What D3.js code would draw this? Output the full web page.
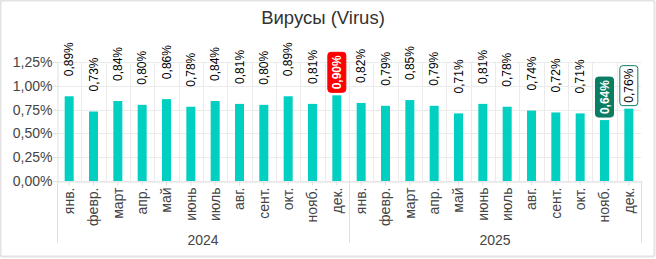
<!DOCTYPE html>
<html><head><meta charset="utf-8">
<script src="https://cdn.jsdelivr.net/npm/d3@7"></script>
<style>
html,body{margin:0;padding:0;background:#fff;}
svg{display:block;font-family:"Liberation Sans", Arial, sans-serif;}
</style></head>
<body>
<svg id="c" width="656" height="259"></svg>
<script>
const months = ["янв.","февр.","март","апр.","май","июнь","июль","авг.","сент.","окт.","нояб.","дек."];
const years = ["2024","2025"];
const values2024 = [0.89,0.73,0.84,0.80,0.86,0.78,0.84,0.81,0.80,0.89,0.81,0.90];
const values2025 = [0.82,0.79,0.85,0.79,0.71,0.81,0.78,0.74,0.72,0.71,0.64,0.76];
const yTicks = [0,0.25,0.5,0.75,1.0,1.25];
const title = "Вирусы (Virus)";

const data = [];
years.forEach((y,yi)=>{
  const vals = yi===0?values2024:values2025;
  months.forEach((m,mi)=>data.push({key:y+"-"+mi, year:y, month:m, value:vals[mi]}));
});
const maxV = d3.max(data,d=>d.value), minV = d3.min(data,d=>d.value);
const lastKey = data[data.length-1].key;

const svg = d3.select("#c");
const L=57, R=641, T=62, B=181;
const x = d3.scaleBand().domain(data.map(d=>d.key)).range([L,R]).paddingInner(0).paddingOuter(0);
const y = d3.scaleLinear().domain([0,1.25]).range([B,T]);
const fmt = v => d3.format(".2f")(v).replace(".",",")+"%";

// frame
svg.append("rect").attr("x",0.5).attr("y",0.5).attr("width",654).attr("height",256)
  .attr("fill","#fff").attr("stroke","#e3e3e3").attr("stroke-width",2).attr("rx",2);

// title
svg.append("text").attr("x",323).attr("y",24).attr("text-anchor","middle")
  .attr("font-size",18.5).attr("fill","#333").text(title);

// gridlines horizontal
svg.append("g").selectAll("line").data(yTicks).join("line")
  .attr("x1",L-4).attr("x2",R).attr("y1",d=>Math.round(y(d))+0.5).attr("y2",d=>Math.round(y(d))+0.5)
  .attr("stroke","#ebebeb");
// vertical gridlines at band boundaries
svg.append("g").selectAll("line").data(data.slice(1)).join("line")
  .attr("x1",d=>Math.round(x(d.key))+0.5).attr("x2",d=>Math.round(x(d.key))+0.5)
  .attr("y1",T).attr("y2",B).attr("stroke","#ebebeb");

// y axis
const ya = d3.axisLeft(y).tickValues(yTicks).tickSize(4).tickFormat(fmt);
const yg = svg.append("g").attr("transform",`translate(${L+0.5},0)`).call(ya);
yg.select(".domain").attr("stroke","#e0e0e0");
yg.selectAll(".tick line").attr("stroke","#e0e0e0");
yg.selectAll(".tick text").attr("font-size",14).attr("fill","#444").attr("font-family","inherit").attr("x",-5);

// bars
const bw = 9;
svg.append("g").selectAll("rect").data(data).join("rect")
  .attr("x",d=>x(d.key)+x.bandwidth()/2-bw/2).attr("width",bw)
  .attr("y",d=>y(d.value)).attr("height",d=>y(0)-y(d.value))
  .attr("fill","#00cfc1");

// x axis
const xa = d3.axisBottom(x).tickSize(4).tickFormat(k=>data.find(d=>d.key===k).month);
const xg = svg.append("g").attr("transform",`translate(0,${B+0.5})`).call(xa);
xg.select(".domain").attr("stroke","#e0e0e0");
xg.selectAll(".tick line").attr("stroke","#e0e0e0");
xg.selectAll(".tick text").attr("font-size",14).attr("fill","#444").attr("font-family","inherit")
  .attr("transform","rotate(-90)").attr("text-anchor","end").attr("x",-6).attr("y",0).attr("dy","0.35em");

// year groups
const sepX = [L, x(years[1]+"-0"), R];
svg.append("g").selectAll("line").data(sepX).join("line")
  .attr("x1",d=>Math.round(d)+0.5).attr("x2",d=>Math.round(d)+0.5).attr("y1",B).attr("y2",243)
  .attr("stroke","#e0e0e0");
svg.append("g").selectAll("text").data(years).join("text")
  .attr("x",(d,i)=>(sepX[i]+sepX[i+1])/2).attr("y",245)
  .attr("text-anchor","middle").attr("font-size",14).attr("fill","#444").text(d=>d);

// value labels
const lg = svg.append("g");
data.forEach(d=>{
  const cx = x(d.key)+x.bandwidth()/2;
  const top = y(d.value);
  let style = null;
  if (d.value===maxV) style={bg:"#ff0000",stroke:"#ff0000",fg:"#fff",bold:true};
  else if (d.value===minV) style={bg:"#0b7d63",stroke:"#0b7d63",fg:"#fff",bold:true};
  else if (d.key===lastKey) style={bg:"#fff",stroke:"#0b7d63",fg:"#000",bold:false};
  if (style){
    const h=40,w=18;
    lg.append("rect").attr("x",cx-w/2).attr("y",top-3-h).attr("width",w).attr("height",h)
      .attr("rx",3).attr("fill",style.bg).attr("stroke",style.stroke);
    lg.append("text").attr("transform",`translate(${cx},${top-3-h/2}) rotate(-90)`)
      .attr("text-anchor","middle").attr("dy","0.35em").attr("font-size",12)
      .attr("font-weight",style.bold?"bold":"normal").attr("fill",style.fg).text(fmt(d.value));
  } else {
    lg.append("text").attr("transform",`translate(${cx},${top-20}) rotate(-90)`)
      .attr("text-anchor","start").attr("dy","0.35em").attr("font-size",12)
      .attr("fill","#000").text(fmt(d.value));
  }
});
</script>
</body></html>
